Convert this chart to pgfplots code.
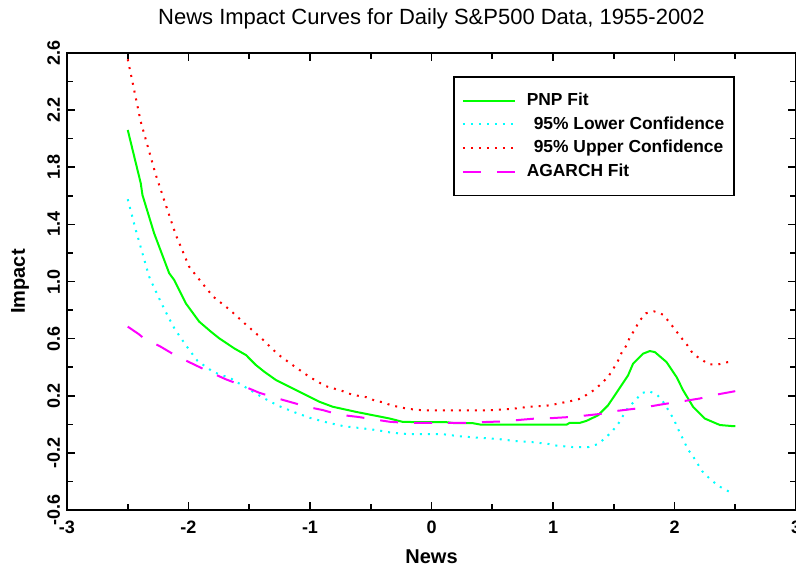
\documentclass[border=0pt]{standalone}
\usepackage{pgfplots}
\pgfplotsset{compat=1.18}
\usepackage{fontspec}
\setmainfont{Liberation Sans}

\definecolor{pnpgreen}{RGB}{0,255,0}
\definecolor{locyan}{RGB}{0,255,255}
\definecolor{upred}{RGB}{255,0,0}
\definecolor{agmag}{RGB}{255,0,255}

\begin{document}
\begin{tikzpicture}
\begin{axis}[
    name=ax,
    scale only axis,
    width=364.5pt, height=228.5pt,
    xmin=-3, xmax=3, ymin=-0.6, ymax=2.6,
    xtick={-3,-2,...,3},
    ytick={-0.6,-0.2,0.2,0.6,1.0,1.4,1.8,2.2,2.6},
    minor x tick num=1, minor y tick num=1,
    tick align=inside,
    major tick length=4pt, minor tick length=3pt,
    axis line style={line width=1.2pt},
    every tick/.style={black, line width=0.8pt},
    /pgf/number format/assume math mode=true,
    /pgf/number format/fixed,
    /pgf/number format/precision=1,
    yticklabel={\pgfmathprintnumber[fixed zerofill,precision=1]{\tick}},
    tick label style={font=\bfseries\fontsize{9}{10}\selectfont},
    xticklabel style={anchor=center, yshift=-8.5pt},
    yticklabel style={rotate=90, anchor=south},
    title={News Impact Curves for Daily S\&P500 Data, 1955-2002},
    title style={at={([yshift=11pt]axis description cs:0.5,1)}, anchor=center,
        font=\fontsize{11}{13}\selectfont},
    xlabel={News},
    ylabel={Impact},
    xlabel style={at={([yshift=-23.5pt]axis description cs:0.5,0)}, anchor=center,
        font=\bfseries\fontsize{10}{12}\selectfont},
    ylabel style={at={([xshift=-23.5pt]axis description cs:0,0.5)}, anchor=center,
        rotate=0, font=\bfseries\fontsize{10}{12}\selectfont},
    legend cell align=left,
    legend style={at={(0.5295,0.9497)}, anchor=north west,
        draw=black, line width=0.8pt,
        inner xsep=4pt, inner ysep=6.5pt, row sep=0.8pt,
        font=\bfseries\fontsize{8.7}{10}\selectfont,
        nodes={inner sep=1pt, text height=7pt, text depth=2pt}},
    legend image code/.code={\draw[#1] (0pt,0pt) -- (26pt,0pt); \path (30.5pt,0pt);},
]

% PNP fit
\addplot[color=pnpgreen, line width=1pt] coordinates {
(-2.5,2.061) (-2.393,1.688) (-2.379,1.606) (-2.283,1.338) (-2.159,1.058)
(-2.118,1.011) (-2.022,0.847) (-1.912,0.719) (-1.816,0.649) (-1.747,0.602)
(-1.624,0.532) (-1.527,0.485) (-1.445,0.415) (-1.376,0.368) (-1.28,0.310)
(-1.17,0.263) (-1.033,0.205) (-0.923,0.158) (-0.813,0.123) (-0.69,0.100)
(-0.621,0.087) (-0.484,0.064) (-0.346,0.041) (-0.237,0.017) (-0.072,0.015)
(0.121,0.015) (0.19,0.008) (0.34,0.008) (0.41,-0.003) (0.973,-0.003)
(1.11,-0.003) (1.137,0.01) (1.22,0.01) (1.275,0.024) (1.371,0.063)
(1.453,0.133) (1.536,0.238) (1.618,0.343) (1.659,0.425) (1.742,0.495)
(1.797,0.513) (1.838,0.506) (1.934,0.436) (2.017,0.331) (2.071,0.238)
(2.154,0.121) (2.25,0.04) (2.374,-0.005) (2.47,-0.012) (2.5,-0.012)
};
\addlegendentry{PNP Fit}

% lower 95% band
\addplot[color=locyan, line width=1pt, dash pattern=on 1pt off 3pt] coordinates {
(-2.5,1.576) (-2.434,1.361) (-2.379,1.198) (-2.324,1.034) (-2.297,0.983)
(-2.242,0.882) (-2.178,0.771) (-2.146,0.719) (-2.112,0.666) (-2.022,0.554)
(-1.926,0.444) (-1.797,0.367) (-1.651,0.321) (-1.522,0.255) (-1.39,0.188)
(-1.259,0.129) (-1.123,0.083) (-0.992,0.043) (-0.846,0.01) (-0.717,-0.014)
(-0.579,-0.027) (-0.448,-0.041) (-0.319,-0.06) (-0.176,-0.069) (0.093,-0.069)
(0.223,-0.083) (0.354,-0.092) (0.56,-0.104) (0.698,-0.118) (0.83,-0.125)
(0.959,-0.137) (1.028,-0.149) (1.16,-0.159) (1.294,-0.159) (1.371,-0.138)
(1.434,-0.093) (1.489,-0.047) (1.541,0.009) (1.58,0.065) (1.618,0.118)
(1.673,0.162) (1.728,0.218) (1.791,0.232) (1.857,0.207) (1.912,0.151)
(1.951,0.097) (1.989,0.042) (2.016,-0.005) (2.044,-0.061) (2.079,-0.117)
(2.107,-0.173) (2.145,-0.214) (2.187,-0.272) (2.228,-0.328) (2.294,-0.384)
(2.36,-0.43) (2.429,-0.463) (2.47,-0.48)
};
\addlegendentry{\hspace{3.5pt}95\% Lower Confidence}

% upper 95% band
\addplot[color=upred, line width=1pt, dash pattern=on 1pt off 3pt] coordinates {
(-2.5,2.556) (-2.393,2.119) (-2.269,1.746) (-2.187,1.536) (-2.104,1.326)
(-1.995,1.104) (-1.904,1.006) (-1.797,0.894) (-1.665,0.805) (-1.533,0.703)
(-1.399,0.602) (-1.267,0.492) (-1.137,0.411) (-1.006,0.333) (-0.874,0.268)
(-0.739,0.235) (-0.662,0.210) (-0.593,0.198) (-0.53,0.189) (-0.464,0.165)
(-0.398,0.154) (-0.332,0.133) (-0.266,0.121) (-0.2,0.109) (-0.072,0.098)
(0.066,0.098) (0.478,0.098) (0.67,0.109) (0.805,0.123) (0.89,0.127)
(0.945,0.13) (1.014,0.14) (1.082,0.152) (1.146,0.163) (1.214,0.177)
(1.28,0.208) (1.343,0.243) (1.412,0.296) (1.461,0.342) (1.503,0.398)
(1.541,0.454) (1.569,0.510) (1.607,0.554) (1.632,0.610) (1.673,0.663)
(1.709,0.721) (1.764,0.777) (1.832,0.791) (1.906,0.768) (1.962,0.710)
(2.011,0.656) (2.052,0.610) (2.107,0.552) (2.149,0.498) (2.217,0.454)
(2.291,0.419) (2.36,0.419) (2.423,0.433) (2.47,0.44)
};
\addlegendentry{\hspace{3.5pt}95\% Upper Confidence}

% AGARCH fit
\addplot[color=agmag, line width=1pt, dash pattern=on 9pt off 8pt] coordinates {
(-2.5,0.684) (-2.407,0.63) (-2.365,0.60) (-2.236,0.547) (-2.099,0.478)
(-1.959,0.421) (-1.83,0.368) (-1.692,0.315) (-1.568,0.275) (-1.418,0.221)
(-1.286,0.186) (-1.157,0.155) (-1.011,0.12) (-0.896,0.10) (-0.758,0.067)
(-0.607,0.052) (-0.484,0.036) (-0.346,0.018) (-0.209,0.01) (0.19,0.01)
(0.327,0.01) (0.464,0.017) (0.602,0.02) (0.725,0.031) (0.863,0.041)
(1.0,0.044) (1.137,0.051) (1.275,0.062) (1.399,0.074) (1.536,0.095)
(1.673,0.109) (1.81,0.127) (1.906,0.141) (2.071,0.162) (2.209,0.181)
(2.338,0.207) (2.5,0.232)
};
\addlegendentry{AGARCH Fit}

\end{axis}
\pgfresetboundingbox
\path ([xshift=-33.5pt,yshift=-28.5pt]ax.south west) rectangle ([yshift=26.5pt]ax.north east);
\end{tikzpicture}
\end{document}
